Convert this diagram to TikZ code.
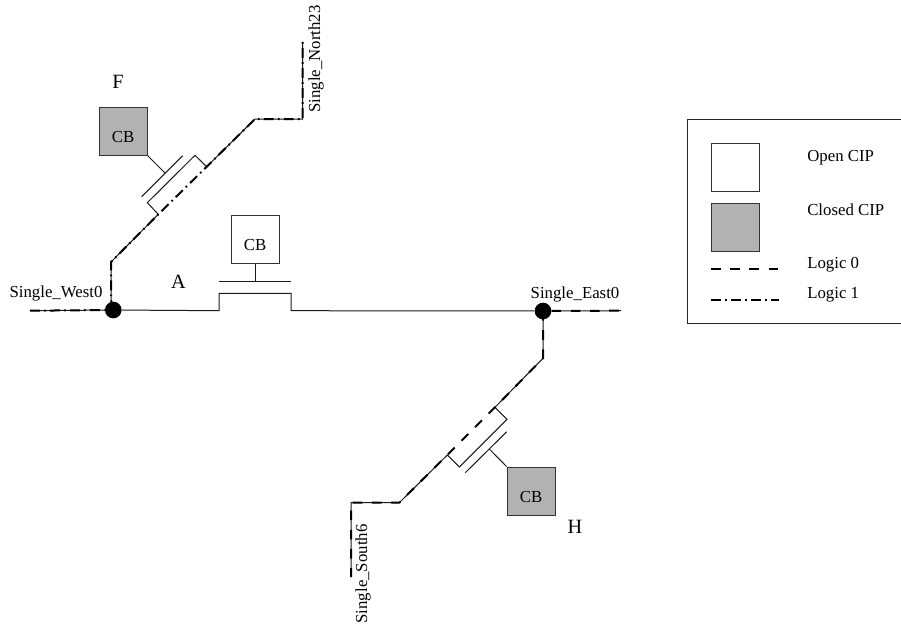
\documentclass[tikz,border=0pt]{standalone}
\usepackage{fontspec}
\setmainfont{Liberation Serif}
\newcommand{\cbtext}{\smash{\raisebox{-8.5pt}{CB}}\hspace{3pt}}
\begin{document}
\begin{tikzpicture}[x=0.75pt,y=-0.75pt,
  thin wire/.style={line width=0.75pt,draw=black!90},
  logiczero/.style={line width=1.5pt,dash pattern=on 7.2pt off 7.2pt},
  logicone/.style={line width=1.5pt,dash pattern=on 7.4pt off 3.2pt on 1.2pt off 3.2pt},
  cip/.style={draw=black!80,line width=0.75pt,minimum size=36pt,inner sep=0pt,font=\fontsize{12.6}{15}\selectfont},
  opencip/.style={cip,fill=white},
  closedcip/.style={cip,fill=black!30},
  junction/.style={circle,fill=black,minimum size=12.5pt,inner sep=0pt},
  lbl/.style={inner sep=0pt,font=\fontsize{12.6}{15}\selectfont},
  big/.style={inner sep=0pt,font=\fontsize{15.2}{18}\selectfont}]
\useasboundingbox (0,0) rectangle (901,629);
% coordinates
\coordinate (wEnd) at (30,310.7);
\coordinate (eEnd) at (621,310.7);
\coordinate (a1) at (219,310.7); \coordinate (a2) at (219,293.3);
\coordinate (a3) at (291,293.3); \coordinate (a4) at (291,310.7);
\coordinate (gA1) at (219,281); \coordinate (gA2) at (291,281);
\coordinate (gAm) at (255,281);
% north branch
\coordinate (n0) at (111,262); \coordinate (n1) at (158.3,214.3);
\coordinate (n2) at (147.3,202.7); \coordinate (n3) at (195,155.3);
\coordinate (n4) at (206.7,166.7); \coordinate (n5) at (255,119);
\coordinate (n6) at (302.7,119); \coordinate (n7) at (302.7,41.7);
\coordinate (gF1) at (141.7,196.7); \coordinate (gF2) at (182.7,155.7);
\coordinate (gFm) at (165,173);
% south branch
\coordinate (s0) at (543,358.3); \coordinate (s1) at (495,407.3);
\coordinate (s2) at (507,419.3); \coordinate (s3) at (459.3,467);
\coordinate (s4) at (447.3,455); \coordinate (s5) at (399.3,502.7);
\coordinate (s6) at (351,502.7); \coordinate (s7) at (351,577);
\coordinate (gH1) at (506.7,431.7); \coordinate (gH2) at (465.3,472.7);
\coordinate (gHm) at (489.3,449);
% nodes
\node[junction] (w) at (113.3,310) {};
\node[junction] (e) at (543,311) {};
\node[closedcip] (F) at (123,131) {\cbtext};
\node[opencip] (A) at (255,239) {\cbtext};
\node[closedcip] (H) at (531,491) {\cbtext};
% thin wires
\draw[thin wire] (wEnd) -- (w);
\draw[thin wire] (w) -- (a1) -- (a2) -- (a3) -- (a4) -- (e);
\draw[thin wire] (e) -- (eEnd);
\draw[thin wire] (gA1) -- (gA2);
\draw[thin wire] (A.south) -- (gAm);
\draw[thin wire] (w.center) -- (111,300) -- (n0) -- (n1) -- (n2) -- (n3) -- (n4) -- (n5) -- (n6) -- (n7);
\draw[thin wire] (gF1) -- (gF2);
\draw[thin wire] (F.south east) -- (gFm);
\draw[thin wire] (e.center) -- (s0) -- (s1) -- (s2) -- (s3) -- (s4) -- (s5) -- (s6) -- (s7);
\draw[thin wire] (gH1) -- (gH2);
\draw[thin wire] (H.north west) -- (gHm);
% logic overlays
\draw[logicone] (wEnd) -- (w);
\draw[logicone] (w.center) -- (111,300) -- (n0) -- (n1) -- (n4) -- (n5) -- (n6) -- (n7);
\draw[logiczero] (e) -- (eEnd);
\draw[logiczero] (e.center) -- (s0) -- (s1) -- (s4) -- (s5) -- (s6) -- (s7);
% labels
\node[lbl] (lw) at (56,293.5) {Single\_West0};
\node[lbl] (le) at (575,294) {Single\_East0};
\node[lbl,rotate=90] (ln) at (316,59) {Single\_North23};
\node[lbl,rotate=90] (ls) at (363,574) {Single\_South6};
\node[big] (lF) at (118,82) {F};
\node[big] (lA) at (178.5,281.5) {A};
\node[big] (lH) at (575,527) {H};
% legend
\node[draw=black!85,line width=0.75pt,minimum width=165pt,minimum height=153pt,inner sep=0pt,anchor=north west] (legend) at (687,119) {};
\node[cip,fill=white] (k1) at (735,167) {};
\node[closedcip] (k2) at (735,227) {};
\coordinate (z1) at (711,269); \coordinate (z2) at (779,269);
\coordinate (o1) at (711,299.5); \coordinate (o2) at (779,299.5);
\draw[logiczero] (z1) -- (z2);
\draw[logicone] (o1) -- (o2);
\node[lbl,anchor=west] (t1) at (807,157.5) {Open CIP};
\node[lbl,anchor=west] (t2) at (807,210) {Closed CIP};
\node[lbl,anchor=west] (t3) at (807,265) {Logic 0};
\node[lbl,anchor=west] (t4) at (807,295) {Logic 1};
\end{tikzpicture}
\end{document}
